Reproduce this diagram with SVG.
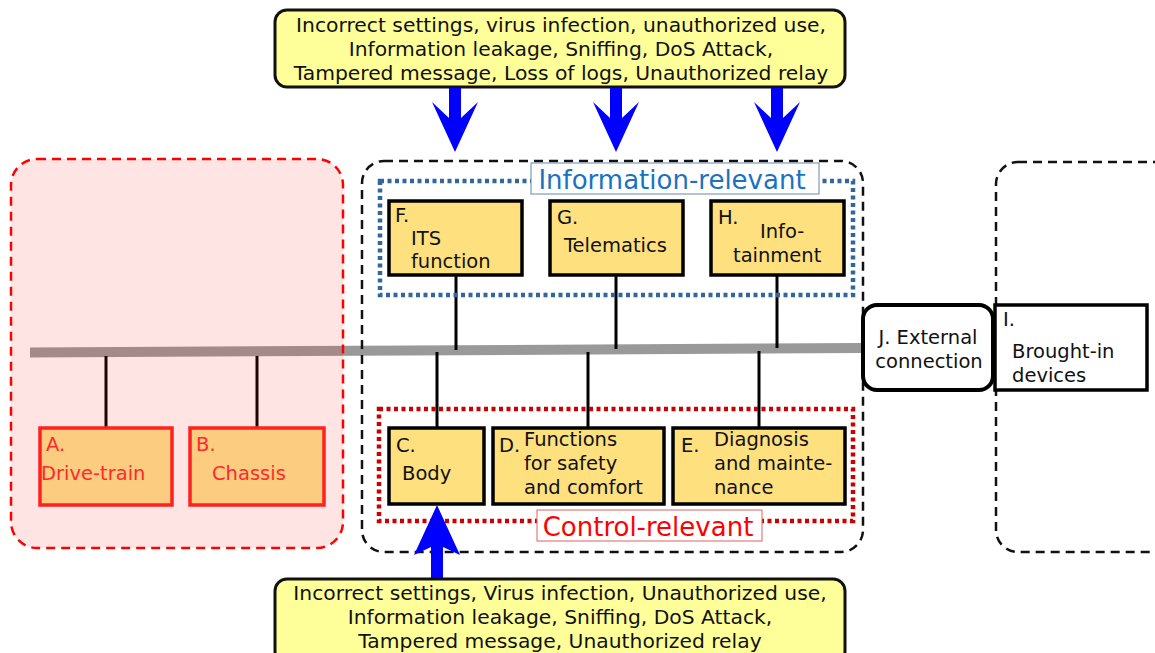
<svg xmlns="http://www.w3.org/2000/svg" width="1155" height="653" viewBox="0 0 1155 653">
  <style>
    text { font-family: "DejaVu Sans", "Noto Sans", sans-serif; font-size: 19.5px; fill: #111; }
    .threat { fill: #ffff99; stroke: #111; stroke-width: 3; }
    .threat-t { font-size: 20.3px; text-anchor: middle; }
    .fn { fill: #ffe07f; stroke: #000; stroke-width: 3.5; }
    .fn-red { fill: #fccc80; stroke: #ff2020; stroke-width: 3.5; }
    .red-t { fill: #ff2a2a; }
    .drop { stroke: #000; stroke-width: 3; }
    .zone { fill: none; stroke: #111; stroke-width: 2.5; stroke-dasharray: 9 6; }
    .arrow { fill: #0000ff; }
    .tag { font-size: 26px; text-anchor: middle; }
  </style>

  <!-- vehicle bus -->
  <g id="connectors">
    <line x1="30" y1="352.5" x2="863" y2="348" stroke="#999" stroke-width="10"/>
    <line class="drop" x1="106" y1="356" x2="106" y2="428"/>
    <line class="drop" x1="257" y1="356" x2="257" y2="428"/>
    <line class="drop" x1="456" y1="275" x2="456" y2="350"/>
    <line class="drop" x1="616" y1="275" x2="616" y2="349"/>
    <line class="drop" x1="777" y1="275" x2="777" y2="348"/>
    <line class="drop" x1="437" y1="352" x2="437" y2="428"/>
    <line class="drop" x1="588" y1="352" x2="588" y2="428"/>
    <line class="drop" x1="759" y1="351" x2="759" y2="428"/>
  </g>

  <!-- powertrain / chassis zone -->
  <g id="zone-vehicle-control">
    <rect x="11" y="159" width="332" height="389" rx="26" fill="#ff2020" fill-opacity="0.12" stroke="#ff0000" stroke-width="2.5" stroke-dasharray="9 6"/>
  </g>

  <!-- information / control zone -->
  <g id="zone-vehicle-info">
    <rect class="zone" x="362" y="161" width="501" height="391" rx="22"/>
    <rect x="380" y="181" width="473" height="114" fill="none" stroke="#336699" stroke-width="4.5" stroke-dasharray="4 3.5"/>
    <rect x="379" y="409" width="474" height="112" fill="none" stroke="#cc0000" stroke-width="4.5" stroke-dasharray="4 3.5"/>
  </g>

  <!-- external devices zone -->
  <g id="zone-external">
    <rect class="zone" x="996" y="162" width="180" height="390" rx="22"/>
  </g>

  <g id="label-info">
    <rect x="531" y="163" width="288" height="31" fill="#fff" stroke="#6688aa" stroke-width="1"/>
    <text class="tag" x="672" y="189" style="fill:#1a72c0">Information-relevant</text>
  </g>
  <g id="label-control">
    <rect x="537" y="510" width="225" height="31" fill="#fff" stroke="#e06060" stroke-width="1"/>
    <text class="tag" x="648" y="536" style="fill:#ff0000">Control-relevant</text>
  </g>

  <g id="node-a">
    <rect class="fn-red" x="40" y="428" width="132" height="77"/>
    <text class="red-t" x="46" y="451">A.</text>
    <text class="red-t" x="41" y="480">Drive-train</text>
  </g>
  <g id="node-b">
    <rect class="fn-red" x="190" y="428" width="134" height="77"/>
    <text class="red-t" x="196" y="451">B.</text>
    <text class="red-t" x="212" y="480">Chassis</text>
  </g>

  <g id="node-f">
    <rect class="fn" x="389" y="201" width="133" height="74"/>
    <text x="395" y="222">F.</text>
    <text x="411" y="245">ITS</text>
    <text x="411" y="268">function</text>
  </g>
  <g id="node-g">
    <rect class="fn" x="550" y="201" width="133" height="74"/>
    <text x="557" y="224">G.</text>
    <text x="564" y="252">Telematics</text>
  </g>
  <g id="node-h">
    <rect class="fn" x="711" y="201" width="133" height="74"/>
    <text x="718" y="224">H.</text>
    <text x="760" y="238">Info-</text>
    <text x="733" y="262">tainment</text>
  </g>

  <g id="node-c">
    <rect class="fn" x="389" y="428" width="95" height="76"/>
    <text x="396" y="452">C.</text>
    <text x="402" y="480">Body</text>
  </g>
  <g id="node-d">
    <rect class="fn" x="493" y="428" width="171" height="76"/>
    <text x="499" y="452">D.</text>
    <text x="524" y="446">Functions</text>
    <text x="524" y="470">for safety</text>
    <text x="524" y="494">and comfort</text>
  </g>
  <g id="node-e">
    <rect class="fn" x="673" y="428" width="172" height="76"/>
    <text x="681" y="452">E.</text>
    <text x="714" y="446">Diagnosis</text>
    <text x="714" y="470">and mainte-</text>
    <text x="714" y="494">nance</text>
  </g>

  <g id="node-j">
    <rect x="863" y="305" width="130" height="85" rx="14" fill="#fff" stroke="#000" stroke-width="4"/>
    <text x="928" y="344" text-anchor="middle">J. External</text>
    <text x="929" y="368" text-anchor="middle">connection</text>
  </g>
  <g id="node-i">
    <rect x="995" y="305" width="152" height="85" fill="#fff" stroke="#000" stroke-width="3.5"/>
    <text x="1003" y="326">I.</text>
    <text x="1012" y="358">Brought-in</text>
    <text x="1012" y="382">devices</text>
  </g>

  <!-- threats against the information domain -->
  <g id="threats-info">
    <rect class="threat" x="275" y="10" width="570" height="77" rx="12"/>
    <text class="threat-t" x="561" y="32">Incorrect settings, virus infection, unauthorized use,</text>
    <text class="threat-t" x="561" y="56">Information leakage, Sniffing, DoS Attack,</text>
    <text class="threat-t" x="561" y="80">Tampered message, Loss of logs, Unauthorized relay</text>
  </g>
  <g id="arrows-down">
    <path class="arrow" d="M449 88 H461 V118 L478 102 L455 152 L432 102 L449 118 Z"/>
    <path class="arrow" d="M610 88 H622 V118 L639 102 L616 152 L593 102 L610 118 Z"/>
    <path class="arrow" d="M771 88 H783 V118 L800 102 L777 152 L754 102 L771 118 Z"/>
  </g>

  <!-- threats against the control domain -->
  <g id="threats-control">
    <path class="arrow" d="M431 579 H443 V547 L460 555 L437 505 L414 555 L431 547 Z"/>
    <rect class="threat" x="275" y="579" width="570" height="84" rx="12"/>
    <text class="threat-t" x="560" y="600">Incorrect settings, Virus infection, Unauthorized use,</text>
    <text class="threat-t" x="560" y="624">Information leakage, Sniffing, DoS Attack,</text>
    <text class="threat-t" x="560" y="648">Tampered message, Unauthorized relay</text>
  </g>
</svg>
